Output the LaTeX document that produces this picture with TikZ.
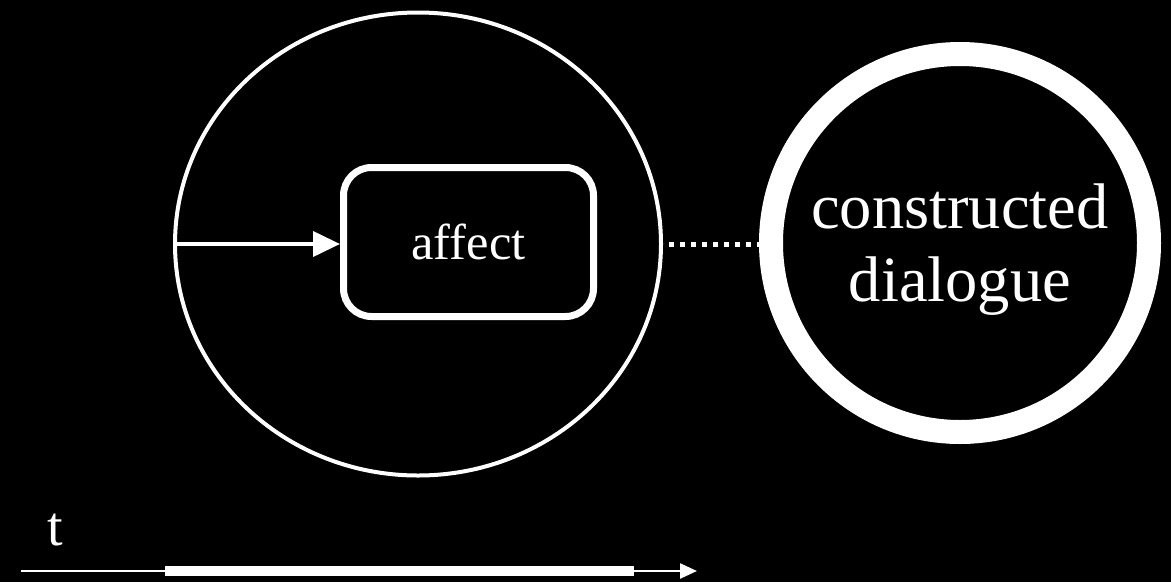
\documentclass[tikz,border=0pt]{standalone}
\usepackage{fontspec}
\setmainfont{Liberation Serif}
\usetikzlibrary{arrows.meta,positioning,shapes.geometric}

\begin{document}
\begin{tikzpicture}[x=1pt,y=-1pt,
  ring/.style={ellipse,draw=white,line width=4pt,minimum width=486pt,minimum height=463pt},
  bx/.style={rectangle,rounded corners=28pt,draw=white,line width=7pt,minimum width=250pt,minimum height=149pt,text=white,font=\fontsize{50.5}{58}\selectfont},
  cd/.style={circle,draw=white,line width=24pt,minimum size=378pt,text=white,align=center,font=\fontsize{64.5}{73}\selectfont}]
  \fill[black] (0,0) rectangle (1171,582);
  \useasboundingbox (0,0) rectangle (1171,582);
  \node[ring](sc) at (418,244){};
  \node[bx](af) at (468.5,242){affect};
  \node[cd,text depth=0pt](dl) at (960,243){constructed\\dialogue};
  \draw[white,line width=4pt,-{Triangle[length=27pt,width=25pt]}] (sc.west)--(sc.west -| af.west);
  \draw[white,line width=5pt,dash pattern=on 5pt off 6pt,shorten <=6pt] (sc.east)--(sc.east -| dl.west);
  % time axis
  \node[text=white,font=\fontsize{56}{60}\selectfont] (tl) at (55,530){t};
  \coordinate (t0) at (21,571);
  \coordinate (t1) at (165,571);
  \coordinate (t2) at (634,571);
  \coordinate (t3) at (697,571);
  \draw[white,line width=2.5pt,-{Triangle[length=17pt,width=15pt]}] (t0)--(t3);
  \draw[white,line width=10pt] (t1)--(t2);
\end{tikzpicture}
\end{document}
